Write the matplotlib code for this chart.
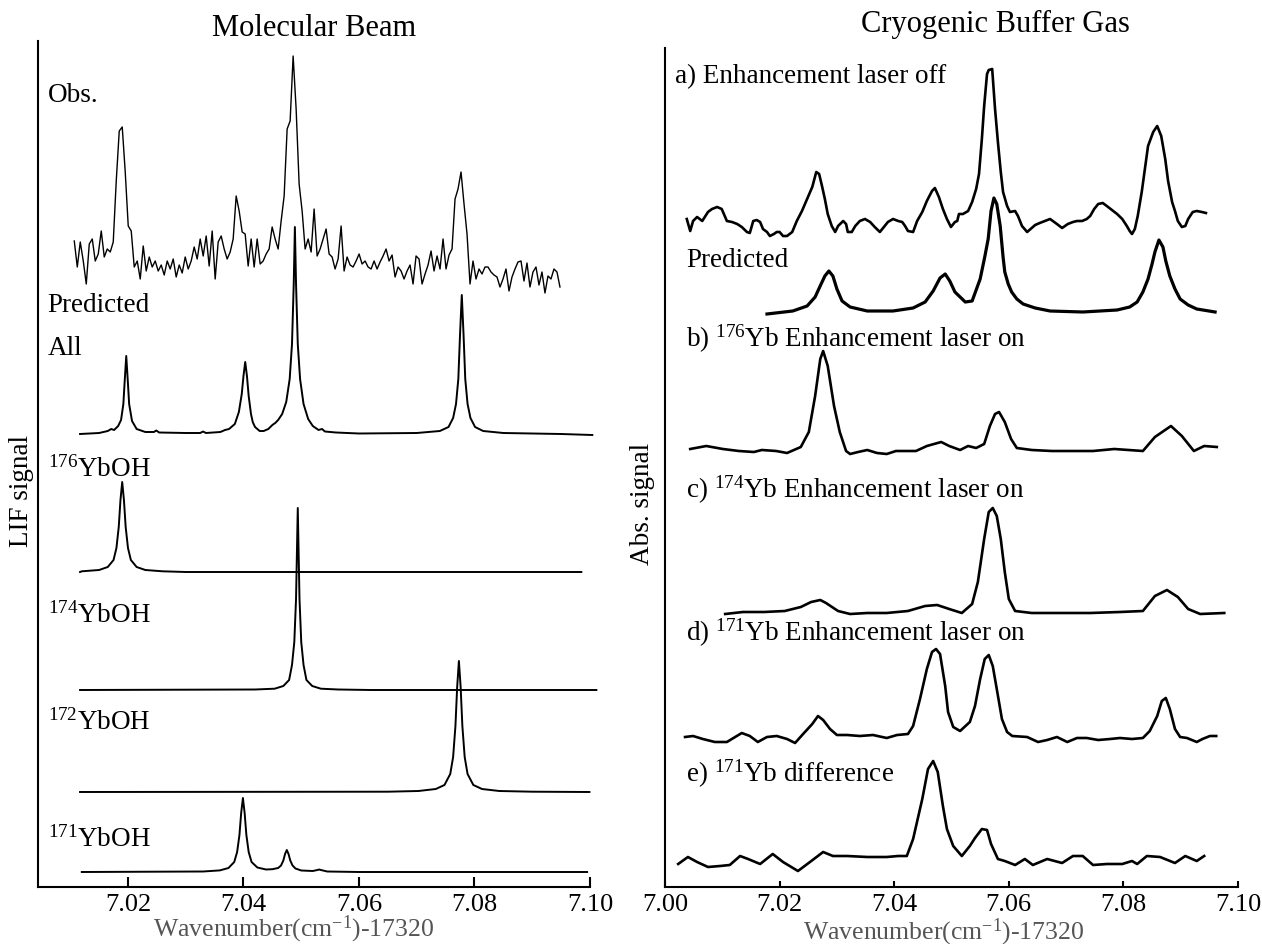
import numpy as np
import matplotlib
matplotlib.use("Agg")
import matplotlib.pyplot as plt

plt.rcParams['font.family'] = ['Liberation Serif', 'DejaVu Serif']
plt.rcParams['mathtext.fontset'] = 'custom'
plt.rcParams['mathtext.rm'] = 'Liberation Serif'
plt.rcParams['mathtext.it'] = 'Liberation Serif:italic'

# ---------------- Molecular beam (left) ----------------
# observed LIF trace, evenly sampled between obs_start and obs_stop
obs_start, obs_stop = 7.0107, 7.0948
obs_signal = [38, 12, 37, 18, -5, 35, 40, 18, 25, 48, 22, 30, 27, 37, 98, 148, 152, 107, 53, 48,
              12, 18, 0, 33, 8, 22, 12, 18, 8, 14, 4, 18, 10, 20, 2, 14, 6, 22, 10, 18,
              32, 20, 40, 23, 43, 13, 48, 0, 37, 43, 30, 20, 27, 40,
              83, 68, 47, 45, 13, 40, 12, 40, 15, 18, 25, 30, 52, 40, 30, 58, 83, 150, 158, 223,
              170, 95, 68, 30, 40, 27, 70, 23, 30, 40, 50, 25, 22, 10, 20, 53, 8, 22, 14, 12,
              18, 25, 15, 18, 12, 10, 18, 10, 17, 23, 30, 18, 24, 2, 12, 8, 0, 8, 14, -5,
              23, 20, -5, 5, 14, 28, 8, 23, 10, 40, 10, 24, 30, 80, 90, 107, 75, 45, -5, 18,
              0, 10, 5, 12, 12, 7, 4, 2, -8, 0, 10, -12, 2, 10, 17, 18, -2, 16, -8, 7,
              12, -6, 7, -14, 3, 0, 10, 7, -8]

all_x = [7.0117, 7.0150, 7.0165, 7.0171, 7.0176, 7.0183, 7.0188, 7.0192, 7.0194, 7.0197, 7.0200,
         7.0202, 7.0207, 7.0215, 7.0230, 7.0245, 7.0249, 7.0254, 7.0300, 7.0325, 7.0330, 7.0335,
         7.0360, 7.0368, 7.0375, 7.0385, 7.0392, 7.0397, 7.0400, 7.0403, 7.0406, 7.0409, 7.0413,
         7.0416, 7.0420, 7.0428, 7.0435, 7.0443, 7.0450, 7.0455, 7.0460, 7.0467, 7.0474, 7.0480,
         7.0484, 7.0487, 7.0489, 7.0491, 7.0494, 7.0498, 7.0504, 7.0512, 7.0520, 7.0530, 7.0536,
         7.0541, 7.0560, 7.0600, 7.0700, 7.0740, 7.0755, 7.0763, 7.0768, 7.0772, 7.0775, 7.0778,
         7.0781, 7.0784, 7.0788, 7.0793, 7.0801, 7.0815, 7.0850, 7.0950, 7.1004]
all_y = [0, 1, 3, 5, 4, 8, 14, 30, 50, 78, 50,
         30, 13, 5, 2, 2, 3.5, 1.5, 1, 1, 2.5, 1,
         2, 4, 5, 10, 22, 40, 58, 72, 58, 38, 20,
         12, 7, 3, 3, 5, 9, 11, 14, 20, 32, 55,
         90, 150, 207, 150, 90, 55, 30, 15, 8, 4, 5,
         2.5, 1.5, 0.5, 1, 3, 7, 16, 30, 55, 100, 139,
         100, 55, 30, 16, 7, 3, 1, 0, -1]

y176_x = [7.0117, 7.0120, 7.0150, 7.0165, 7.0175, 7.0180, 7.0184, 7.0187, 7.0190, 7.0193, 7.0196,
          7.0200, 7.0205, 7.0215, 7.0230, 7.0260, 7.0300, 7.0985]
y176_y = [0, 0.7, 2, 5, 12, 24, 45, 72, 90, 72, 45, 24, 12, 5, 2, 0.7, 0, 0]

y174_x = [7.0117, 7.0420, 7.0454, 7.0469, 7.0479, 7.0484, 7.0488, 7.0491, 7.0494, 7.0497, 7.0500,
          7.0504, 7.0509, 7.0519, 7.0534, 7.0564, 7.0620, 7.1011]
y174_y = [0, 0.5, 1.3, 4, 10, 25, 48, 91, 182, 91, 48, 25, 10, 4, 1.3, 0.5, 0, 0]

y172_x = [7.0117, 7.0650, 7.0703, 7.0733, 7.0748, 7.0758, 7.0763, 7.0767, 7.0770, 7.0773, 7.0776,
          7.0779, 7.0783, 7.0788, 7.0798, 7.0813, 7.0843, 7.0900, 7.0999]
y172_y = [0, 0.3, 1, 3, 7, 18, 35, 66, 105, 131, 105, 66, 35, 18, 7, 3, 1, 0.3, 0]

y171_x = [7.0120, 7.0330, 7.0359, 7.0374, 7.0384, 7.0389, 7.0393, 7.0396, 7.0399, 7.0402, 7.0405,
          7.0409, 7.0414, 7.0424, 7.0439, 7.0450, 7.0460, 7.0465, 7.0469, 7.0472, 7.0475, 7.0478,
          7.0481, 7.0485, 7.0490, 7.0500, 7.0520, 7.0528, 7.0531, 7.0534, 7.0545, 7.0600, 7.0995]
y171_y = [0, 0.5, 1.6, 4, 10, 20, 37, 59, 74, 59, 37, 20, 10, 4.5, 2.5, 2.8, 4, 6.5, 11.5, 18, 22,
          18, 11.5, 6.5, 3.5, 1.5, 1, 2, 2.5, 2, 0.5, 0, 0]

left_labels = ['Obs.', 'Predicted', 'All', r'$^{176}$YbOH', r'$^{174}$YbOH', r'$^{172}$YbOH', r'$^{171}$YbOH']
left_ticks = [7.02, 7.04, 7.06, 7.08, 7.10]

# ---------------- Cryogenic buffer gas (right) ----------------
a_x = [7.0038, 7.0044, 7.0049, 7.0056, 7.0065, 7.0075, 7.0082, 7.0091, 7.0099, 7.0108, 7.0117,
       7.0126, 7.0134, 7.0143, 7.0148, 7.0154, 7.0160, 7.0166, 7.0171, 7.0178, 7.0183, 7.0190,
       7.0195, 7.0200, 7.0206, 7.0213, 7.0222, 7.0230, 7.0239, 7.0248, 7.0257, 7.0264, 7.0269,
       7.0274, 7.0279, 7.0284, 7.0291, 7.0297, 7.0302, 7.0311, 7.0316, 7.0319, 7.0326, 7.0332,
       7.0340, 7.0349, 7.0358, 7.0366, 7.0375, 7.0382, 7.0389, 7.0398, 7.0407, 7.0414, 7.0419,
       7.0424, 7.0433, 7.0440, 7.0449, 7.0457, 7.0466, 7.0471, 7.0478, 7.0485, 7.0492, 7.0499,
       7.0506, 7.0510, 7.0513, 7.0520, 7.0529, 7.0536, 7.0543, 7.0548, 7.0553, 7.0557, 7.0562,
       7.0565, 7.0571, 7.0576, 7.0581, 7.0586, 7.0590, 7.0597, 7.0602, 7.0611, 7.0616, 7.0623,
       7.0632, 7.0646, 7.0654, 7.0663, 7.0672, 7.0684, 7.0693, 7.0703, 7.0712, 7.0719, 7.0728,
       7.0736, 7.0742, 7.0749, 7.0756, 7.0764, 7.0771, 7.0780, 7.0789, 7.0798, 7.0806, 7.0811,
       7.0815, 7.0820, 7.0825, 7.0832, 7.0838, 7.0843, 7.0852, 7.0859, 7.0866, 7.0873, 7.0878,
       7.0885, 7.0890, 7.0895, 7.0902, 7.0908, 7.0913, 7.0921, 7.0928, 7.0937, 7.0944]
a_y = [17, 5, 15, 19, 15, 24, 27, 29, 27, 15, 14,
       12, 9, 4, 3, 15, 16, 14, 7, 4, 0, 2,
       4, 4, 0, 0, 4, 15, 25, 37, 49, 64, 62,
       50, 37, 22, 10, 4, 10, 15, 12, 4, 4, 10,
       15, 17, 14, 9, 4, 9, 14, 17, 15, 14, 10,
       5, 4, 15, 24, 35, 45, 48, 39, 27, 17, 9,
       14, 15, 22, 22, 25, 34, 47, 62, 97, 130, 162,
       166, 167, 127, 94, 64, 44, 30, 24, 25, 20, 10,
       4, 11, 13, 15, 17, 12, 8, 12, 14, 15, 15,
       17, 20, 27, 32, 33, 30, 26, 22, 17, 10, 5,
       2, 7, 20, 44, 69, 90, 104, 110, 100, 77, 55,
       34, 25, 15, 9, 10, 17, 24, 25, 24, 23]

pred_x = [7.0178, 7.0223, 7.0248, 7.0262, 7.0270, 7.0279, 7.0286, 7.0293, 7.0300, 7.0309, 7.0323,
          7.0353, 7.0398, 7.0433, 7.0454, 7.0468, 7.0480, 7.0489, 7.0497, 7.0506, 7.0524, 7.0536,
          7.0550, 7.0558, 7.0564, 7.0569, 7.0574, 7.0579, 7.0585, 7.0590, 7.0593, 7.0599, 7.0605,
          7.0614, 7.0625, 7.0646, 7.0672, 7.0729, 7.0789, 7.0811, 7.0824, 7.0834, 7.0843, 7.0850,
          7.0855, 7.0862, 7.0869, 7.0874, 7.0881, 7.0890, 7.0899, 7.0913, 7.0928, 7.0960]
pred_y = [0, 3, 8, 17, 27, 38, 43, 38, 25, 13, 7,
          3, 3, 6, 12, 23, 36, 40, 33, 22, 12, 13,
          35, 57, 75, 103, 116, 110, 88, 57, 42, 30, 22,
          15, 10, 6, 3, 2, 4, 7, 12, 22, 35, 50,
          62, 74, 67, 53, 38, 25, 15, 9, 5, 2]

b_x = [7.0044, 7.0072, 7.0101, 7.0129, 7.0155, 7.0169, 7.0194, 7.0213, 7.0237, 7.0251, 7.0262,
       7.0271, 7.0276, 7.0284, 7.0295, 7.0305, 7.0316, 7.0323, 7.0337, 7.0353, 7.0370, 7.0387,
       7.0403, 7.0438, 7.0457, 7.0482, 7.0496, 7.0515, 7.0529, 7.0543, 7.0557, 7.0567, 7.0576,
       7.0583, 7.0593, 7.0604, 7.0614, 7.0640, 7.0675, 7.0712, 7.0747, 7.0784, 7.0834, 7.0855,
       7.0883, 7.0902, 7.0923, 7.0941, 7.0963]
b_y = [2, 5, 2, 0, -1, 1, 0, -2, 4, 19, 55,
       92, 100, 85, 45, 19, 0, -3, -1, 1, -2, -3,
       0, 0, 5, 9, 5, 1, 5, 3, 7, 25, 37,
       39, 29, 12, 3, 1, 0, 0, 0, 2, 0, 14,
       25, 15, 0, 5, 4]

c_x = [7.0105, 7.0136, 7.0173, 7.0209, 7.0237, 7.0255, 7.0271, 7.0281, 7.0302, 7.0323, 7.0353,
       7.0387, 7.0424, 7.0454, 7.0475, 7.0496, 7.0518, 7.0536, 7.0546, 7.0557, 7.0565, 7.0572,
       7.0579, 7.0586, 7.0593, 7.0600, 7.0611, 7.0640, 7.0689, 7.0742, 7.0794, 7.0834, 7.0855,
       7.0876, 7.0895, 7.0913, 7.0934, 7.0976]
c_y = [-1, 1, 1, 2, 6, 11, 13, 10, 2, -1, 0,
       0, 2, 7, 8, 4, 0, 9, 31, 74, 101, 105,
       97, 74, 41, 14, 2, 0, 0, 0, 1, 2, 17,
       23, 16, 4, -1, 0]

d_x = [7.0035, 7.0049, 7.0066, 7.0087, 7.0108, 7.0134, 7.0148, 7.0162, 7.0178, 7.0195, 7.0213,
       7.0227, 7.0241, 7.0257, 7.0267, 7.0276, 7.0288, 7.0300, 7.0318, 7.0340, 7.0363, 7.0387,
       7.0405, 7.0424, 7.0433, 7.0445, 7.0457, 7.0466, 7.0473, 7.0480, 7.0489, 7.0494, 7.0503,
       7.0515, 7.0532, 7.0541, 7.0550, 7.0558, 7.0565, 7.0572, 7.0579, 7.0588, 7.0597, 7.0606,
       7.0632, 7.0651, 7.0667, 7.0684, 7.0702, 7.0719, 7.0736, 7.0756, 7.0777, 7.0794, 7.0815,
       7.0834, 7.0846, 7.0859, 7.0867, 7.0874, 7.0881, 7.0890, 7.0899, 7.0911, 7.0928, 7.0938,
       7.0951, 7.0962]
d_y = [2, 3, 0, -3, -3, 6, 3, -3, 2, 3, 0,
       -4, 5, 15, 23, 19, 10, 4, 4, 3, 4, 1,
       4, 5, 13, 40, 70, 87, 90, 85, 53, 27, 12,
       8, 17, 33, 60, 80, 84, 73, 50, 20, 7, 3,
       2, -3, -1, 2, -3, 1, 1, -1, 0, 1, 0,
       1, 8, 23, 38, 41, 30, 10, 2, 1, -3, 0,
       3, 3]

e_x = [7.0023, 7.0040, 7.0056, 7.0075, 7.0096, 7.0113, 7.0131, 7.0145, 7.0166, 7.0188, 7.0206,
       7.0232, 7.0253, 7.0276, 7.0293, 7.0318, 7.0353, 7.0387, 7.0407, 7.0422, 7.0433, 7.0449,
       7.0459, 7.0468, 7.0476, 7.0485, 7.0492, 7.0503, 7.0518, 7.0532, 7.0541, 7.0553, 7.0562,
       7.0569, 7.0581, 7.0593, 7.0611, 7.0628, 7.0642, 7.0667, 7.0693, 7.0712, 7.0729, 7.0747,
       7.0771, 7.0798, 7.0815, 7.0824, 7.0841, 7.0864, 7.0890, 7.0908, 7.0928, 7.0941]
e_y = [-3, 4, -1, -6, -5, -4, 5, 2, -3, 7, -1,
       -10, -1, 9, 5, 5, 4, 4, 5, 5, 22, 62,
       92, 100, 89, 55, 32, 15, 5, 15, 23, 32, 31,
       17, 2, 0, -4, 2, -4, 2, -2, 5, 5, -4,
       -3, -3, 0, -3, 5, 4, -2, 5, 0, 5]

right_labels = ['a) Enhancement laser off', 'Predicted', r'b) $^{176}$Yb Enhancement laser on',
                r'c) $^{174}$Yb Enhancement laser on', r'd) $^{171}$Yb Enhancement laser on',
                r'e) $^{171}$Yb difference']
right_ticks = [7.00, 7.02, 7.04, 7.06, 7.08, 7.10]

xlabel_text = 'Wavenumber(cm$^{\\mathregular{-1}}$)-17320'

# ---------------- figure ----------------
W, H = 1262, 945
fig = plt.figure(figsize=(W / 100, H / 100), dpi=100)

def px_box(x0, y0, x1, y1):
  return [x0 / W, 1 - y1 / H, (x1 - x0) / W, (y1 - y0) / H]

axL = fig.add_axes(px_box(38, 42, 590, 888))
axR = fig.add_axes(px_box(665, 49, 1238, 888))

for ax in (axL, axR):
  for side in ('top', 'right'):
    ax.spines[side].set_visible(False)
  for side in ('left', 'bottom'):
    ax.spines[side].set_linewidth(1.5)
  ax.set_yticks([])
  ax.patch.set_alpha(0)

# left panel traces, offsets = baseline height of each trace
lw_pred = 1.4
axL.plot(np.linspace(obs_start, obs_stop, len(obs_signal)), np.array(obs_signal) + 608,
         color='black', lw=1.0)
axL.plot(all_x, np.array(all_y) + 453, color='black', lw=lw_pred, clip_on=False)
axL.plot(y176_x, np.array(y176_y) + 315, color='black', lw=lw_pred, clip_on=False)
axL.plot(y174_x, np.array(y174_y) + 197, color='black', lw=lw_pred, clip_on=False)
axL.plot(y172_x, np.array(y172_y) + 95, color='black', lw=lw_pred, clip_on=False)
axL.plot(y171_x, np.array(y171_y) + 15, color='black', lw=lw_pred, clip_on=False)
axL.set_xlim(7.00442, 7.10)
axL.set_ylim(0, 846)
axL.set_xticks(left_ticks)
axL.set_xticklabels(['%.2f' % t for t in left_ticks])
axL.tick_params(axis='x', direction='in', length=7, width=1.5, labelsize=19, pad=4)

left_label_y = [786, 576, 533, 411, 265, 158, 41]
for txt, yy in zip(left_labels, left_label_y):
  axL.text(7.0061, yy, txt, fontsize=19.5, va='baseline', ha='left')

# right panel traces
lw_r = 1.9
axR.plot(a_x, np.array(a_y) + 651, color='black', lw=lw_r)
axR.plot(pred_x, np.array(pred_y) + 573, color='black', lw=2.3)
axR.plot(b_x, np.array(b_y) + 436, color='black', lw=lw_r)
axR.plot(c_x, np.array(c_y) + 274, color='black', lw=lw_r)
axR.plot(d_x, np.array(d_y) + 148, color='black', lw=lw_r)
axR.plot(e_x, np.array(e_y) + 26, color='black', lw=lw_r)
axR.set_xlim(7.00, 7.10)
axR.set_ylim(0, 839)
axR.set_xticks(right_ticks)
axR.set_xticklabels(['%.2f' % t for t in right_ticks])
axR.tick_params(axis='x', direction='in', length=4, width=1.5, labelsize=19, pad=4)

right_label_pos = [(7.0017, 805), (7.0038, 621), (7.0037, 541), (7.0037, 390), (7.0037, 247), (7.0037, 106)]
for txt, (xx, yy) in zip(right_labels, right_label_pos):
  axR.text(xx, yy, txt, fontsize=19.5, va='baseline', ha='left')

# titles and axis labels
fig.text(314 / W, 1 - 28 / H, 'Molecular Beam', fontsize=22, ha='center', va='center')
fig.text(995 / W, 1 - 24 / H, 'Cryogenic Buffer Gas', fontsize=22, ha='center', va='center')
fig.text(22 / W, 1 - 491 / H, 'LIF signal', fontsize=19.5, rotation=90, ha='center', va='center')
fig.text(643 / W, 1 - 504 / H, 'Abs. signal', fontsize=19.5, rotation=90, ha='center', va='center')
fig.text(294 / W, 1 - 936 / H, xlabel_text, fontsize=18.5, color='#555555', ha='center', va='baseline')
fig.text(944 / W, 1 - 939 / H, xlabel_text, fontsize=18.5, color='#555555', ha='center', va='baseline')

fig.savefig('out.png', dpi=100)
